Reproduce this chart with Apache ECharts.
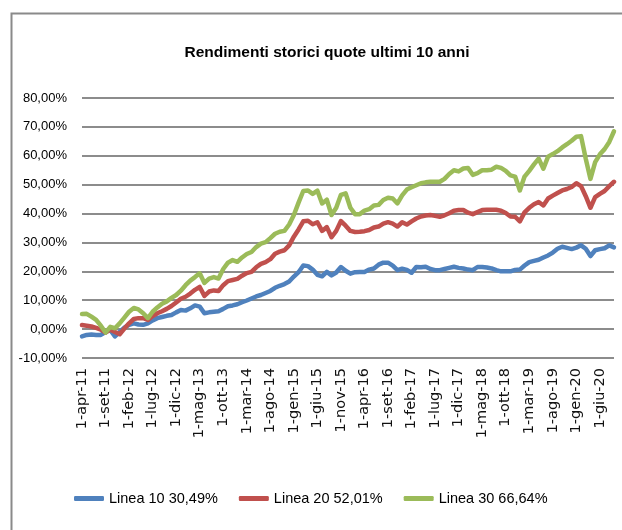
<!DOCTYPE html>
<html>
<head>
<meta charset="utf-8">
<script src="https://cdn.jsdelivr.net/npm/echarts@6/dist/echarts.min.js"></script>
<style>
html,body{margin:0;padding:0;background:#fff;}
#chart{width:622px;height:530px;}
</style>
</head>
<body>
<div id="chart"></div>
<script>
// Month names (Italian) used for category labels: 1-apr-11 ... 1-set-20
const monthNames = ['gen','feb','mar','apr','mag','giu','lug','ago','set','ott','nov','dic'];
const startYear = 2011, startMonth = 3, nMonths = 114;
const categories = [];
for (let i = 0; i < nMonths; i++) {
  const m = (startMonth + i) % 12;
  const y = startYear + Math.floor((startMonth + i) / 12);
  categories.push('1-' + monthNames[m] + '-' + String(y).slice(2));
}

const seriesNames = ['Linea 10 30,49%', 'Linea 20 52,01%', 'Linea 30 66,64%'];

const linea10 = [
  -2.5,-2.0,-1.9,-2.0,-2.0,-1.0,-0.3,-2.5,-1.0,0.5,
  1.5,2.0,1.6,1.5,2.0,3.0,3.8,4.2,4.6,4.9,
  5.8,6.6,6.4,7.2,8.2,7.8,5.5,5.8,6.0,6.2,
  7.0,7.9,8.2,8.6,9.3,9.9,10.6,11.3,11.8,12.5,
  13.2,14.3,15.0,15.6,16.5,18.2,19.7,22.0,21.8,20.6,
  18.8,18.3,19.8,18.6,19.6,21.5,20.2,19.2,19.7,19.8,
  19.8,20.6,21.0,22.3,23.0,23.0,22.0,20.4,20.9,20.5,
  19.5,21.5,21.4,21.6,20.8,20.4,20.4,20.8,21.2,21.6,
  21.2,21.0,20.6,20.4,21.5,21.5,21.3,21.0,20.4,20.0,
  20.0,20.0,20.5,20.6,22.0,23.2,23.6,24.0,24.8,25.5,
  26.5,27.8,28.5,28.1,27.7,28.2,29.0,27.8,25.3,27.3,
  27.7,28.0,29.0,28.3
];

const linea20 = [
  1.4,1.2,0.9,0.4,-0.2,-1.2,-0.2,-1.0,-1.8,0.2,
  2.0,3.5,3.8,3.8,3.2,4.5,5.5,6.2,7.0,8.0,
  9.2,10.5,11.2,12.3,13.6,14.6,11.5,13.0,13.4,13.2,
  15.2,16.6,17.0,17.4,18.5,19.4,19.8,21.4,22.6,23.2,
  24.2,26.1,26.8,27.3,29.0,32.0,34.5,37.3,37.5,36.3,
  37.0,34.0,35.3,31.8,34.0,37.4,35.8,34.0,33.6,33.7,
  33.9,34.3,35.2,35.5,36.5,37.0,36.5,35.5,37.0,36.2,
  37.3,38.3,39.0,39.3,39.5,39.2,38.9,39.4,40.1,41.0,
  41.2,41.2,40.3,39.8,40.5,41.2,41.3,41.3,41.3,41.0,
  40.2,39.0,38.9,37.3,40.4,42.0,43.2,44.0,42.8,45.2,
  46.2,47.1,48.0,48.5,49.2,50.5,49.5,46.0,42.0,45.7,
  46.8,47.8,49.5,51.0
];

const linea30 = [
  5.2,5.3,4.3,3.2,1.2,-1.2,0.8,0.3,2.0,4.0,
  6.0,7.3,6.8,5.5,3.8,6.0,7.5,8.8,9.6,10.8,
  11.8,13.3,15.2,16.8,18.0,19.3,16.0,17.5,18.0,17.5,
  20.8,23.0,23.9,23.3,24.8,26.0,26.7,28.4,29.6,30.1,
  31.5,33.0,33.7,34.0,36.2,39.5,43.8,47.8,48.0,46.8,
  47.9,43.5,44.8,39.5,42.0,46.5,47.0,42.0,39.8,39.8,
  41.0,41.5,42.8,43.0,44.7,45.5,45.2,43.5,46.3,48.3,
  49.1,49.8,50.5,50.8,51.0,51.0,51.0,52.0,53.7,55.0,
  54.6,55.6,55.8,53.4,54.0,55.0,55.0,55.2,56.2,55.8,
  54.8,53.2,52.8,48.0,52.8,54.8,57.0,59.0,55.5,59.7,
  60.6,61.6,62.9,64.0,65.2,66.6,66.8,59.0,52.0,57.8,
  60.5,62.3,64.8,68.5
];

const colors = ['#4F81BD', '#C0504D', '#9BBB59'];
const sans = '"Liberation Sans", Arial, sans-serif';

const chart = echarts.init(document.getElementById('chart'), null, {renderer: 'canvas'});
chart.setOption({
  animation: false,
  backgroundColor: '#fff',
  graphic: [{
    type: 'rect',
    shape: {x: 11.5, y: 13.5, width: 700, height: 600},
    style: {fill: 'none', stroke: '#8a8a8a', lineWidth: 2}
  }],
  title: {
    text: 'Rendimenti storici quote ultimi 10 anni',
    left: 322, top: 40, textAlign: 'center',
    textStyle: {fontFamily: sans, fontSize: 15.5, fontWeight: 'bold', color: '#000'}
  },
  legend: {
    data: seriesNames,
    left: 69, top: 486,
    itemWidth: 30, itemHeight: 5, itemGap: 21,
    icon: 'roundRect',
    textStyle: {fontFamily: sans, fontSize: 14.5, color: '#000'}
  },
  grid: {left: 82, right: 8, top: 98, bottom: 172, containLabel: false},
  xAxis: {
    type: 'category',
    data: categories,
    boundaryGap: false,
    axisLine: {show: false},
    axisTick: {show: false},
    axisLabel: {
      interval: 4, rotate: 90, margin: 10,
      fontFamily: '"DejaVu Sans", sans-serif', fontSize: 14.5, color: '#111'
    },
    splitLine: {show: false}
  },
  yAxis: {
    type: 'value',
    min: -10, max: 80, interval: 10,
    axisLine: {show: false},
    axisTick: {show: false},
    axisLabel: {
      margin: 15,
      fontFamily: sans, fontSize: 13, color: '#000',
      formatter: v => v.toFixed(2).replace('.', ',') + '%'
    },
    splitLine: {lineStyle: {color: '#8c8c8c', width: 2}}
  },
  series: [linea10, linea20, linea30].map((d, k) => ({
    name: seriesNames[k],
    type: 'line',
    data: d,
    showSymbol: false,
    symbol: 'none',
    color: colors[k],
    lineStyle: {width: 4.5, color: colors[k], join: 'round', cap: 'round'}
  }))
});
</script>
</body>
</html>
